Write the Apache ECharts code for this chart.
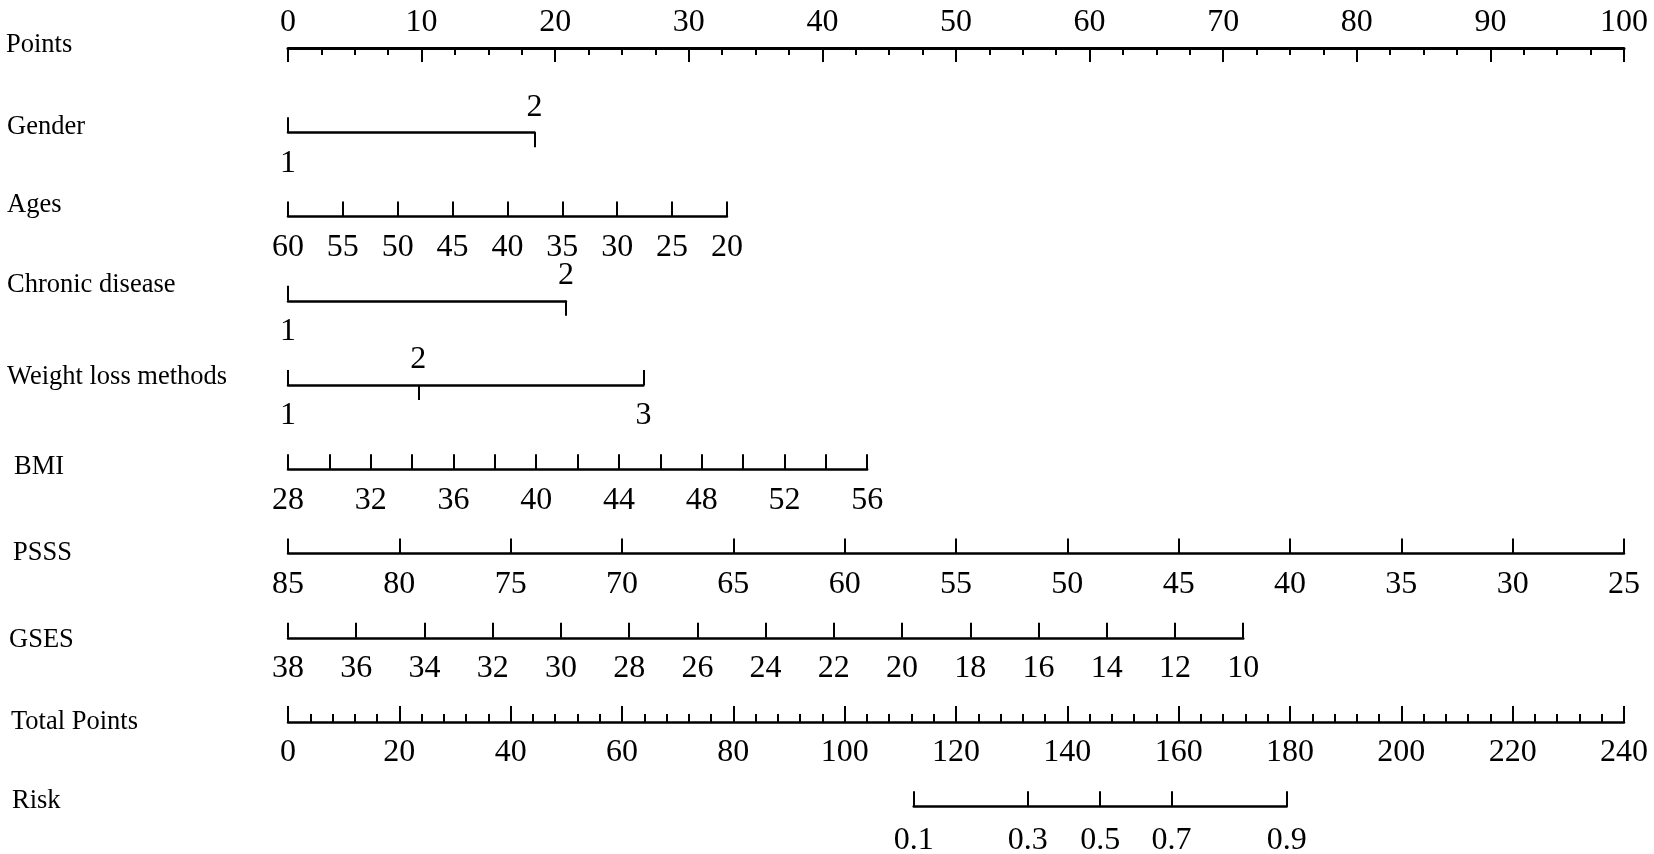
<!DOCTYPE html>
<html>
<head>
<meta charset="utf-8">
<script src="https://cdn.jsdelivr.net/npm/echarts@6/dist/echarts.min.js"></script>
<style>
    html, body { margin: 0; padding: 0; background: #fff; }
    #chart { width: 1654px; height: 854px; }
</style>
</head>
<body>
<div id="chart"></div>
<script>
// row titles, top to bottom
const rowNames = ['Points', 'Gender', 'Ages', 'Chronic disease', 'Weight loss methods',
    'BMI', 'PSSS', 'GSES', 'Total Points', 'Risk'];

// Points / Total points scales
const pointsLabels = [0, 10, 20, 30, 40, 50, 60, 70, 80, 90, 100];
const totalLabels = [0, 20, 40, 60, 80, 100, 120, 140, 160, 180, 200, 220, 240];

// categorical predictors: level -> points, label above or below the line
const genderLevels = ['1', '2'];
const genderPoints = [0, 18.45];
const genderSide = ['below', 'above'];

const chronicLevels = ['1', '2'];
const chronicPoints = [0, 20.8];
const chronicSide = ['below', 'above'];

const weightLevels = ['1', '2', '3'];
const weightPoints = [0, 9.75, 26.6];
const weightSide = ['below', 'above', 'below'];

// continuous predictors: ticks from 0 points up to the end point value
const agesTicks = [60, 55, 50, 45, 40, 35, 30, 25, 20];
const agesEndPoints = 32.85;

const bmiTicks = [28, 30, 32, 34, 36, 38, 40, 42, 44, 46, 48, 50, 52, 54, 56];
const bmiLabels = [28, 32, 36, 40, 44, 48, 52, 56];
const bmiEndPoints = 43.35;

const psssTicks = [85, 80, 75, 70, 65, 60, 55, 50, 45, 40, 35, 30, 25];
const psssEndPoints = 100;

const gsesTicks = [38, 36, 34, 32, 30, 28, 26, 24, 22, 20, 18, 16, 14, 12, 10];
const gsesEndPoints = 71.5;

// risk against total points
const riskLevels = ['0.1', '0.3', '0.5', '0.7', '0.9'];
const riskTotal = [112.4, 132.9, 145.9, 158.7, 179.4];

// ---- layout ----
const FONT = '"Liberation Serif", "Times New Roman", serif';
const X0 = 288, W = 1336;
const rowY = rowNames.map((n, i) => 48 + i * 84.25);
const nameX = [6, 7, 7, 7, 7, 14, 13, 9, 11, 12];
const nameY = [45, 127, 205, 285, 377, 467, 553, 640, 722, 801];

const ptX = p => X0 + p / pointsLabels[pointsLabels.length - 1] * W;
const totX = t => X0 + t / totalLabels[totalLabels.length - 1] * W;

const lineStyle = { color: '#000', width: 2.5 };
const tickLine = { color: '#000', width: 2 };
const labelStyle = { color: '#000', fontFamily: FONT, fontSize: 32, margin: 15 };

const grids = [], xAxes = [], yAxes = [];

function addGrid(y, xa, xb) {
    grids.push({ left: xa, width: xb - xa, top: y - 10, height: 10, outerBoundsMode: 'none' });
    yAxes.push({ gridIndex: grids.length - 1, type: 'value', show: false });
    return grids.length - 1;
}

function baseAxis(g) {
    return {
        gridIndex: g, type: 'value', position: 'bottom',
        splitLine: { show: false },
        axisLine: { show: true, lineStyle: lineStyle },
        axisTick: { show: true, inside: true, length: 15, lineStyle: tickLine },
        axisLabel: Object.assign({}, labelStyle)
    };
}

// подписи над линией: метка вниз, текст сверху
function flipUp(a) {
    a.axisTick.inside = false;
    a.axisLabel.inside = true;
    a.axisLabel.margin = 9;
}

/**
 * Строка с категориальным предиктором (подписи сверху/снизу)
 */
function catRow(row, levels, pts, side, toX) {
    const g = addGrid(rowY[row], toX(pts[0]), toX(pts[pts.length - 1]));
    const fmt = v => levels[pts.indexOf(v)];
    const below = pts.filter((p, i) => side[i] === 'below');
    const above = pts.filter((p, i) => side[i] === 'above');

    const a = baseAxis(g);
    a.min = pts[0];
    a.max = pts[pts.length - 1];
    a.axisTick.customValues = below;
    a.axisLabel.customValues = below;
    a.axisLabel.formatter = fmt;
    xAxes.push(a);

    if (above.length) {
        const b = baseAxis(g);
        b.min = a.min;
        b.max = a.max;
        b.axisLine = { show: false };
        flipUp(b);
        b.axisTick.customValues = above;
        b.axisLabel.customValues = above;
        b.axisLabel.formatter = fmt;
        xAxes.push(b);
    }
    return a;
}

/**
 * Строка с непрерывным предиктором
 */
function numRow(row, ticks, labels, endPts) {
    const g = addGrid(rowY[row], ptX(0), ptX(endPts));
    const a = baseAxis(g);
    a.min = Math.min(...ticks);
    a.max = Math.max(...ticks);
    a.inverse = ticks[0] > ticks[ticks.length - 1];
    a.axisTick.customValues = ticks;
    a.axisLabel.customValues = labels;
    xAxes.push(a);
}

// Points
const gP = addGrid(rowY[0], ptX(0), ptX(100));
const pAxis = baseAxis(gP);
flipUp(pAxis);
pAxis.min = pointsLabels[0];
pAxis.max = pointsLabels[pointsLabels.length - 1];
pAxis.interval = pointsLabels[1] - pointsLabels[0];
pAxis.axisLine.lineStyle = { color: '#000', width: 3 };
pAxis.axisTick.length = 14;
pAxis.minorTick = { show: true, splitNumber: 4, length: 7, lineStyle: tickLine };
xAxes.push(pAxis);

catRow(1, genderLevels, genderPoints, genderSide, ptX);
numRow(2, agesTicks, agesTicks, agesEndPoints);
catRow(3, chronicLevels, chronicPoints, chronicSide, ptX);
catRow(4, weightLevels, weightPoints, weightSide, ptX);
numRow(5, bmiTicks, bmiLabels, bmiEndPoints);
numRow(6, psssTicks, psssTicks, psssEndPoints);
numRow(7, gsesTicks, gsesTicks, gsesEndPoints);

// Total Points
const gT = addGrid(rowY[8], totX(0), totX(240));
const tAxis = baseAxis(gT);
tAxis.min = totalLabels[0];
tAxis.max = totalLabels[totalLabels.length - 1];
tAxis.interval = totalLabels[1] - totalLabels[0];
tAxis.axisTick.length = 16;
tAxis.minorTick = { show: true, splitNumber: 5, length: 8, lineStyle: tickLine };
xAxes.push(tAxis);

// Risk
const rAxis = catRow(9, riskLevels, riskTotal, riskLevels.map(() => 'below'), totX);
rAxis.axisLabel.margin = 18;

const names = rowNames.map((n, i) => ({
    type: 'text',
    x: nameX[i],
    y: nameY[i],
    style: {
        text: n,
        fill: '#000',
        fontFamily: FONT,
        fontSize: 26.5,
        verticalAlign: 'middle',
        textVerticalAlign: 'middle'
    }
}));

const chart = echarts.init(document.getElementById('chart'), null, { renderer: 'canvas' });
chart.setOption({
    backgroundColor: '#fff',
    animation: false,
    grid: grids,
    xAxis: xAxes,
    yAxis: yAxes,
    graphic: names,
    series: []
});
</script>
</body>
</html>
